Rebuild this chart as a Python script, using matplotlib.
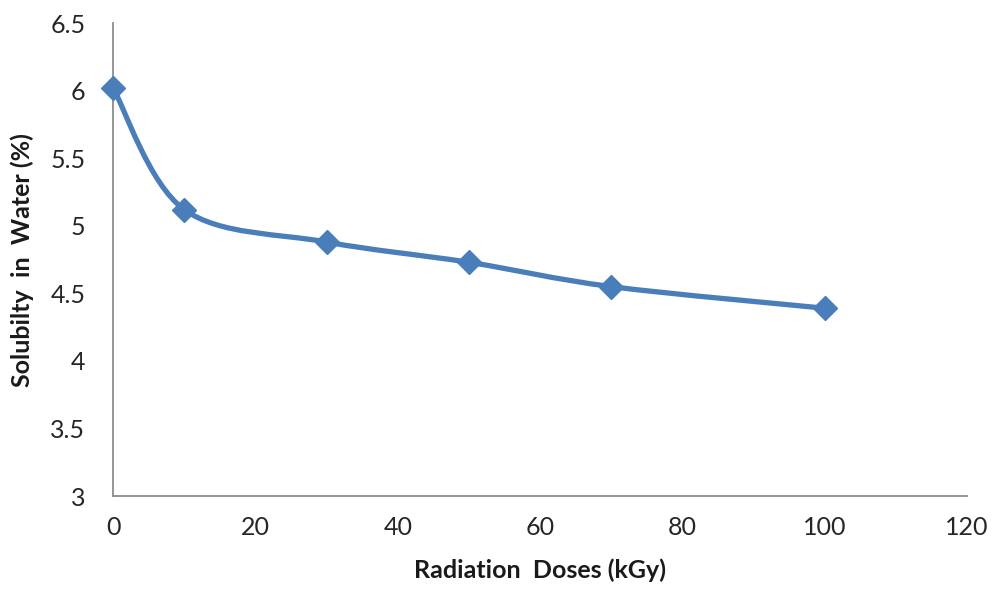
import matplotlib.pyplot as plt
from matplotlib.path import Path
from matplotlib.patches import PathPatch

# radiation dose (kGy) vs solubility in water (%)
dose = [0, 10, 30, 50, 70, 100]
solubility = [6.02, 5.12, 4.88, 4.73, 4.55, 4.39]

x_ticks = [0, 20, 40, 60, 80, 100, 120]
y_ticks = [3, 3.5, 4, 4.5, 5, 5.5, 6, 6.5]
y_tick_labels = ["3", "3.5", "4", "4.5", "5", "5.5", "6", "6.5"]

blue = "#4a7ebb"
grey = "#8c8c8c"

plt.rcParams["font.family"] = ["Lato", "DejaVu Sans"]


def smooth_path(xs, ys):
    # Excel-like smoothed line: Catmull-Rom segments drawn as cubic Beziers
    pts = list(zip(xs, ys))
    verts = [pts[0]]
    codes = [Path.MOVETO]
    n = len(pts)
    for i in range(n - 1):
        p0 = pts[i - 1] if i > 0 else pts[i]
        p1 = pts[i]
        p2 = pts[i + 1]
        p3 = pts[i + 2] if i + 2 < n else pts[i + 1]
        c1 = (p1[0] + (p2[0] - p0[0]) / 6, p1[1] + (p2[1] - p0[1]) / 6)
        c2 = (p2[0] - (p3[0] - p1[0]) / 6, p2[1] - (p3[1] - p1[1]) / 6)
        verts += [c1, c2, p2]
        codes += [Path.CURVE4] * 3
    return Path(verts, codes)


fig = plt.figure(figsize=(9.92, 5.92), dpi=100)
ax = fig.add_axes([0.114, 0.162, 0.861, 0.799])

ax.add_patch(PathPatch(smooth_path(dose, solubility), facecolor="none",
                       edgecolor=blue, lw=3.8, capstyle="round", zorder=3))
ax.plot(dose, solubility, linestyle="none", marker="D", markersize=12,
        color=blue, zorder=4, clip_on=False)

ax.set_xlim(0, 120)
ax.set_ylim(3, 6.5)
ax.set_xticks(x_ticks)
ax.set_yticks(y_ticks)
ax.set_yticklabels(y_tick_labels)
ax.tick_params(length=0, labelsize=18, colors="#262626")
ax.tick_params(axis="x", pad=14)
ax.tick_params(axis="y", pad=20)

for side in ["top", "right"]:
    ax.spines[side].set_visible(False)
for side in ["left", "bottom"]:
    ax.spines[side].set_color(grey)
    ax.spines[side].set_linewidth(1.3)

ax.set_xlabel("Radiation  Doses (kGy)", fontsize=18, fontweight="bold",
              color="#1a1a1a", labelpad=14)
ax.set_ylabel("Solubilty  in  Water (%)", fontsize=18, fontweight="bold",
              color="#1a1a1a", labelpad=12)

fig.savefig("out.png", dpi=100)
